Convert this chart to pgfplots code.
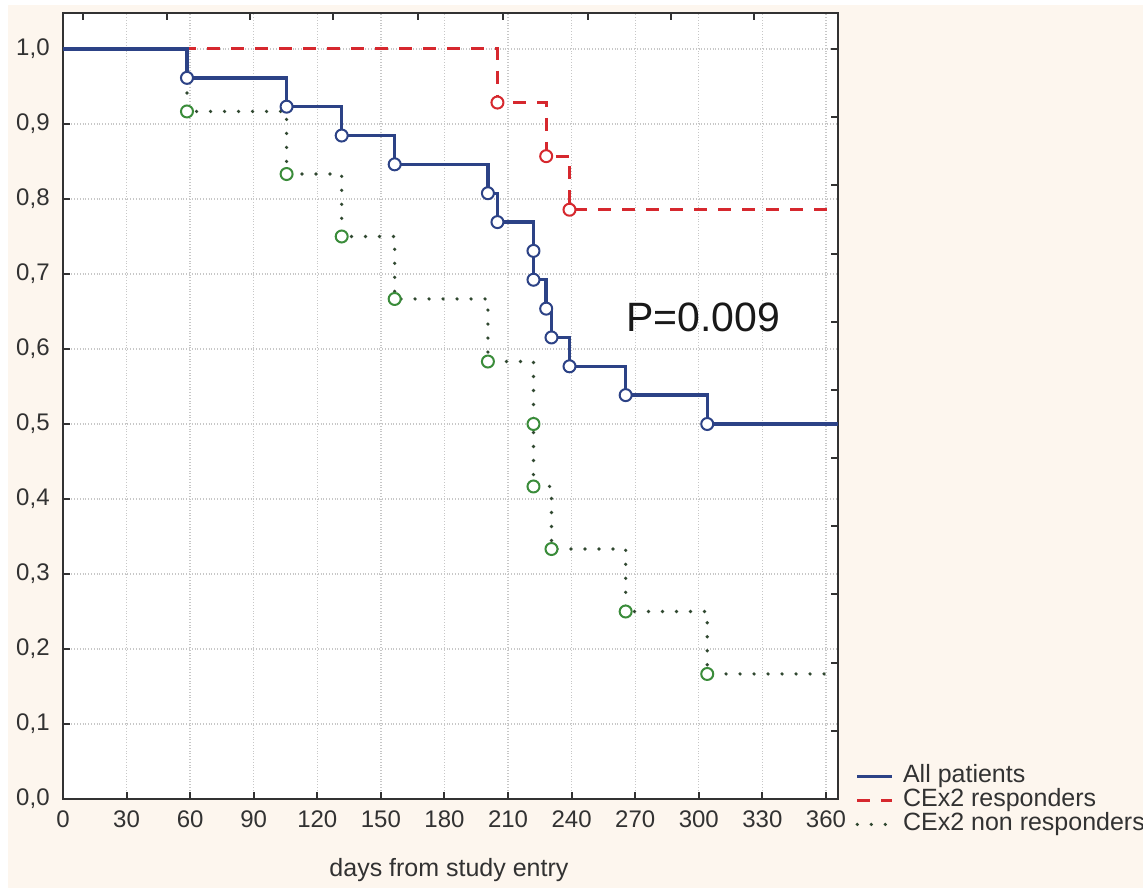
\documentclass[border=0pt]{standalone}
\usepackage{fontspec}
\setmainfont{Liberation Sans}
\usepackage{pgfplots}
\pgfplotsset{compat=1.18}

\definecolor{kmblue}{RGB}{44,66,134}
\definecolor{kmred}{RGB}{214,40,46}
\definecolor{kmgreen}{RGB}{58,140,58}
\definecolor{kmdots}{RGB}{48,72,48}
\definecolor{paper}{RGB}{253,246,238}
\definecolor{inkgray}{RGB}{50,50,50}

% Kaplan-Meier estimates (days, survival fraction)
\pgfplotstableread{
x      y
0      1
58.5   0.9615
105.5  0.9231
131.5  0.8846
156.5  0.8462
200.5  0.8077
205    0.7692
222    0.7308
222    0.6923
228    0.6538
230.5  0.6154
239    0.5769
265.5  0.5385
304    0.5000
365.7  0.5000
}\allpatients

\pgfplotstableread{
x      y
0      1
205    0.9286
228    0.8571
239    0.7857
365.7  0.7857
}\responders

\pgfplotstableread{
x      y
0      1
58.5   0.9167
105.5  0.8333
131.5  0.7500
156.5  0.6667
200.5  0.5833
222    0.5000
222    0.4167
230.5  0.3333
265.5  0.2500
304    0.1667
365.7  0.1667
}\nonresponders

% event markers (drop points only)
\pgfplotstableread{
x      y
58.5   0.9615
105.5  0.9231
131.5  0.8846
156.5  0.8462
200.5  0.8077
205    0.7692
222    0.7308
222    0.6923
228    0.6538
230.5  0.6154
239    0.5769
265.5  0.5385
304    0.5000
}\allmarks

\pgfplotstableread{
x      y
205    0.9286
228    0.8571
239    0.7857
}\respmarks

\pgfplotstableread{
x      y
58.5   0.9167
105.5  0.8333
131.5  0.7500
156.5  0.6667
200.5  0.5833
222    0.5000
222    0.4167
230.5  0.3333
265.5  0.2500
304    0.1667
}\nonrespmarks

\tikzset{
  allstyle/.style={color=kmblue, line width=1.7pt},
  respstyle/.style={color=kmred, line width=1.5pt, dash pattern=on 6.5pt off 5.5pt},
  nonrespstyle/.style={color=kmdots, line width=1.8pt, line cap=round, dash pattern=on 0pt off 7pt},
}

\begin{document}
\begin{tikzpicture}
% page background
\fill[white] (-31.5pt,-44.5pt) rectangle (540pt,399.5pt);
\fill[paper] (-27.5pt,-44.5pt) rectangle (540pt,397pt);

\begin{axis}[
  at={(0,0)}, anchor=south west,
  scale only axis, width=387.5pt, height=393pt,
  xmin=0, xmax=365.7, ymin=0, ymax=1.048,
  axis background/.style={fill=white},
  axis line style={color=inkgray, line width=1pt},
  xtick={0,30,60,90,120,150,180,210,240,270,300,330,360},
  ytick={0,0.1,0.2,0.3,0.4,0.5,0.6,0.7,0.8,0.9,1.0},
  xtick pos=left, ytick pos=left,
  tick align=inside, major tick length=3.5pt,
  tick style={color=inkgray, line width=1pt},
  xmajorgrids, ymajorgrids,
  grid style={densely dotted, color=black!22, line width=0.7pt},
  /pgf/number format/assume math mode=true,
  ticklabel style={font=\fontsize{12}{14}\selectfont, text=inkgray},
  yticklabel style={inner sep=0pt, xshift=-6.5pt,
    /pgf/number format/fixed, /pgf/number format/fixed zerofill,
    /pgf/number format/precision=1, /pgf/number format/use comma},
  xticklabel style={inner sep=0pt, yshift=-5.5pt},
  xlabel={days from study entry},
  xlabel style={at={(axis description cs:0.498,-0.09)}, anchor=center,
    font=\fontsize{12.5}{15}\selectfont, text=inkgray},
  legend style={at={(axis description cs:1.022,0.0445)}, anchor=north west,
    draw=none, fill=none, font=\fontsize{12.5}{15}\selectfont, text=inkgray,
    nodes={inner sep=0.5pt, text height=8.5pt, text depth=2.5pt},
    column sep=4pt, row sep=0pt, inner sep=0pt},
  legend cell align=left,
  legend image code/.code={\draw[#1] (0pt,0pt) -- (17.5pt,0pt);},
]
\addlegendimage{allstyle}
\addlegendentry{All patients}
\addlegendimage{respstyle}
\addlegendentry{CEx2 responders}
\addlegendimage{nonrespstyle}
\addlegendentry{CEx2 non responders}

\addplot[nonrespstyle, const plot, forget plot] table[x=x, y=y] {\nonresponders};
\addplot[respstyle, const plot, forget plot] table[x=x, y=y] {\responders};
\addplot[allstyle, const plot, forget plot] table[x=x, y=y] {\allpatients};

\addplot[only marks, mark=*, mark size=3pt, forget plot,
  mark options={draw=kmgreen, fill=white, line width=1pt, solid}] table[x=x, y=y] {\nonrespmarks};
\addplot[only marks, mark=*, mark size=3pt, forget plot,
  mark options={draw=kmred, fill=white, line width=1pt, solid}] table[x=x, y=y] {\respmarks};
\addplot[only marks, mark=*, mark size=3pt, forget plot,
  mark options={draw=kmblue, fill=white, line width=1pt, solid}] table[x=x, y=y] {\allmarks};

\node[font=\fontsize{20.5}{24}\selectfont, text=black!90] at (axis cs:302,0.642) {P=0.009};
\end{axis}

% secondary tick marks on the top and right edges
\begin{axis}[
  at={(0,0)}, anchor=south west,
  scale only axis, width=387.5pt, height=393pt,
  xmin=0, xmax=365.7, ymin=0, ymax=1.048,
  axis line style={draw=none},
  xtick={9.4,49.1,88.2,127.4,167.5,207.6,247.7,286.9,326},
  ytick={0.0909,0.1818,0.2727,0.3636,0.4545,0.5455,0.6364,0.7273,0.8182,0.9091,1.0},
  xtick pos=right, ytick pos=right,
  xticklabels={}, yticklabels={},
  tick align=inside, major tick length=3.5pt,
  tick style={color=inkgray, line width=1pt},
]
\end{axis}

\pgfresetboundingbox
\path[use as bounding box] (-31.5pt,-44.5pt) rectangle (540pt,399.5pt);
\end{tikzpicture}
\end{document}
